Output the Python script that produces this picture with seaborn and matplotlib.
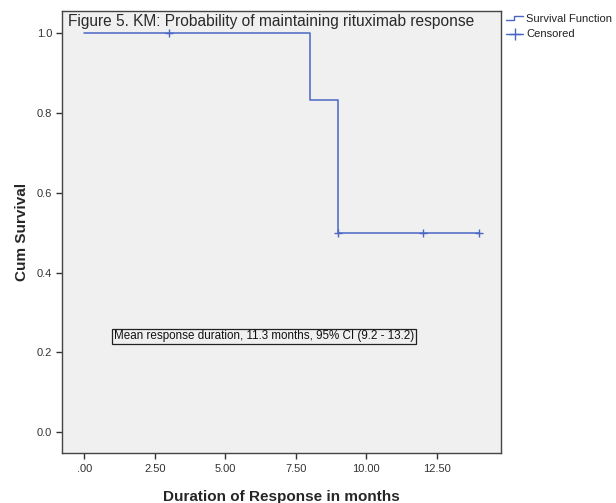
import matplotlib
matplotlib.use("Agg")
import matplotlib.pyplot as plt
import seaborn as sns
import pandas as pd
from matplotlib.lines import Line2D

# Data
step_times = [0, 8, 9, 14]
step_surv = [1.0, 0.833, 0.5, 0.5]
censor_times = [3, 9, 12, 14]
censor_surv = [1.0, 0.5, 0.5, 0.5]
x_ticks = [0, 2.5, 5, 7.5, 10, 12.5]
x_ticklabels = [".00", "2.50", "5.00", "7.50", "10.00", "12.50"]
y_ticks = [0.0, 0.2, 0.4, 0.6, 0.8, 1.0]
y_ticklabels = ["0.0", "0.2", "0.4", "0.6", "0.8", "1.0"]
title = "Figure 5. KM: Probability of maintaining rituximab response"
note = "Mean response duration, 11.3 months, 95% CI (9.2 - 13.2)"
legend_labels = ["Survival Function", "Censored"]

sns.set_style("white")
plt.rcParams['font.family'] = ['Liberation Sans', 'DejaVu Sans']

line_color = "#4a66c4"
fig = plt.figure(figsize=(6.16, 5.03), dpi=100)
ax = fig.add_axes([62/616, 1-453.3/503, (501-62)/616, (453.3-11)/503])
ax.set_facecolor("#f0f0f0")

step_df = pd.DataFrame({"t": step_times, "s": step_surv})
cens_df = pd.DataFrame({"t": censor_times, "s": censor_surv})
sns.lineplot(data=step_df, x="t", y="s", ax=ax, drawstyle="steps-post",
             color=line_color, linewidth=1.1, estimator=None, sort=False)
sns.scatterplot(data=cens_df, x="t", y="s", ax=ax, marker="+", s=40,
                color=line_color, linewidth=1.0, zorder=3)

ax.set_xlim(-0.79, 14.78)
ax.set_ylim(-0.053, 1.056)
ax.set_xticks(x_ticks)
ax.set_xticklabels(x_ticklabels)
ax.set_yticks(y_ticks)
ax.set_yticklabels(y_ticklabels)
ax.tick_params(axis="both", direction="out", length=4, width=1.0,
               color="#333333", labelsize=8, labelcolor="#333333",
               left=True, bottom=True, pad=3)
ax.tick_params(axis="x", pad=4)
for sp in ax.spines.values():
    sp.set_color("#444444")
    sp.set_linewidth(1.0)

ax.set_xlabel("Duration of Response in months", fontsize=11,
              fontweight="bold", labelpad=11)
ax.set_ylabel("Cum Survival", fontsize=11, fontweight="bold", labelpad=6)

ax.text(0.013, 0.993, title, transform=ax.transAxes, fontsize=11.2,
        ha="left", va="top", color="#2a2a2a")
ax.text(1.05, 0.24, note, fontsize=8.4, ha="left", va="center", color="#111111",
        bbox=dict(boxstyle="square,pad=0.15", facecolor="#f0f0f0",
                  edgecolor="#222222", linewidth=0.9))

# Legend outside (custom icons)
fx = lambda px: px/616
fy = lambda py: 1 - py/503
fig.add_artist(Line2D([fx(506), fx(514), fx(514), fx(523)],
                      [fy(19.5), fy(19.5), fy(15.5), fy(15.5)],
                      color=line_color, linewidth=1.0))
fig.add_artist(Line2D([fx(506), fx(523)], [fy(34), fy(34)],
                      color=line_color, linewidth=1.0))
fig.add_artist(Line2D([fx(514.5)], [fy(34)], marker="+", markersize=8,
                      color=line_color, markeredgewidth=1.0))
fig.text(fx(526), fy(19), legend_labels[0], fontsize=8, ha="left", va="center",
         color="#222222")
fig.text(fx(526), fy(34), legend_labels[1], fontsize=8, ha="left", va="center",
         color="#222222")

fig.savefig("out.png", dpi=100, facecolor="white")
